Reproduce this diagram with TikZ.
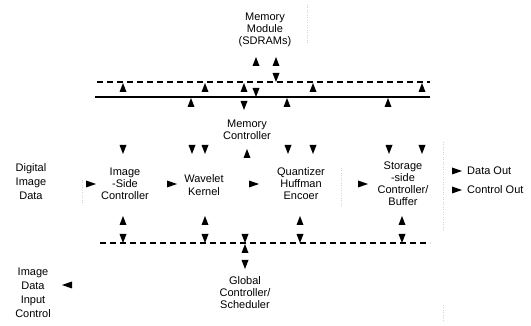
\documentclass[tikz,border=0pt]{standalone}
\usepackage{fontspec}
\setmainfont{Liberation Sans}
\usepackage{tikz}

\tikzset{
  lbl/.style={align=center, inner sep=0pt, font=\fontsize{11}{12}\selectfont},
  dbus/.style={line width=1.2pt, dash pattern=on 6pt off 4pt},
  sbus/.style={line width=1.5pt},
  trace/.style={gray!35, line width=0.5pt, dotted},
  % bare arrow heads, origin at the tip
  uptip/.pic={\fill (0,0) -- (3.5,9) -- (-3.5,9) -- cycle;},
  dntip/.pic={\fill (0,0) -- (3.5,-9) -- (-3.5,-9) -- cycle;},
  rttip/.pic={\fill (0,0) -- (-10,-3.5) -- (-10,3.5) -- cycle;},
  lftip/.pic={\fill (0,0) -- (10,-3.5) -- (10,3.5) -- cycle;}
}

\begin{document}
\begin{tikzpicture}[x=1pt,y=-1pt]
 \useasboundingbox (0,0) rectangle (531,326);

 % Memory side
 \node[lbl] (memmod) at (265,30) {Memory\\Module\\(SDRAMs)};
 \node[lbl] (memctrl) at (247,130) {Memory\\Controller};

 \coordinate (dbusL) at (97,82);  \coordinate (dbusR) at (430,82);
 \coordinate (sbusL) at (95,97);  \coordinate (sbusR) at (430,97);
 \draw[dbus] (dbusL) -- (dbusR); % address/control bus
 \draw[sbus] (sbusL) -- (sbusR); % data bus

 \pic at (256,57) {uptip}; \pic at (276,57) {uptip}; \pic at (276,82) {dntip};
 \pic at (123,83) {uptip}; \pic at (205,83) {uptip}; \pic at (244,83) {uptip};
 \pic at (313,83) {uptip}; \pic at (422,83) {uptip};
 \pic at (256,97) {dntip};
 \pic at (191,98) {uptip}; \pic at (287,98) {uptip}; \pic at (388,98) {uptip};
 \pic at (244,110) {dntip};

 % taps down into the pipeline
 \pic at (123,154) {dntip}; \pic at (192,154) {dntip}; \pic at (205,154) {dntip};
 \pic at (288,154) {dntip}; \pic at (313,154) {dntip};
 \pic at (389,154) {dntip}; \pic at (422,154) {dntip};
 \pic at (247,149) {uptip};

 % Pipeline
 \node[lbl, font=\fontsize{11}{14}\selectfont] (digin) at (31,182) {Digital\\Image\\Data};
 \node[lbl] (isc) at (125,184) {Image\\-Side\\Controller};
 \node[lbl, font=\fontsize{11}{13}\selectfont] (wk) at (204,185) {Wavelet\\Kernel};
 \node[lbl] (qhe) at (301,184) {Quantizer\\Huffman\\Encoer};
 \node[lbl] (ssc) at (403,184) {Storage\\-side\\Controller/\\Buffer};
 \node[lbl, anchor=west] (dout) at (467,171) {Data Out};
 \node[lbl, anchor=west] (cout) at (467,190) {Control Out};

 \pic at (96,184) {rttip}; \pic at (177,184) {rttip};
 \pic at (259,184) {rttip}; \pic at (368,184) {rttip};
 \pic at (462,171) {rttip}; \pic at (462,190) {rttip};

 % Control side
 \pic at (123,216) {uptip}; \pic at (205,216) {uptip};
 \pic at (300,216) {uptip}; \pic at (402,216) {uptip};

 \coordinate (cbusL) at (100,243); \coordinate (cbusR) at (430,243);
 \draw[dbus] (cbusL) -- (cbusR); % control bus

 \pic at (123,243) {dntip}; \pic at (205,243) {dntip};
 \pic at (300,243) {dntip}; \pic at (402,243) {dntip};
 \pic at (245,243) {dntip}; \pic at (245,244) {uptip};
 \pic at (245,269) {dntip};

 \node[lbl] (gcs) at (245,293) {Global\\Controller/\\Scheduler};
 \node[lbl, font=\fontsize{11}{14}\selectfont] (idic) at (33,293) {Image\\Data\\Input\\Control};
 \pic at (62,285) {lftip};

 % leftover box edges
 \draw[trace] (307,5) -- (307,45);
 \draw[trace] (341,168) -- (341,206);
 \draw[trace] (443,142) -- (443,232);
 \draw[trace] (443,305) -- (443,322);
 \draw[trace] (82,180) -- (82,205);
\end{tikzpicture}
\end{document}
